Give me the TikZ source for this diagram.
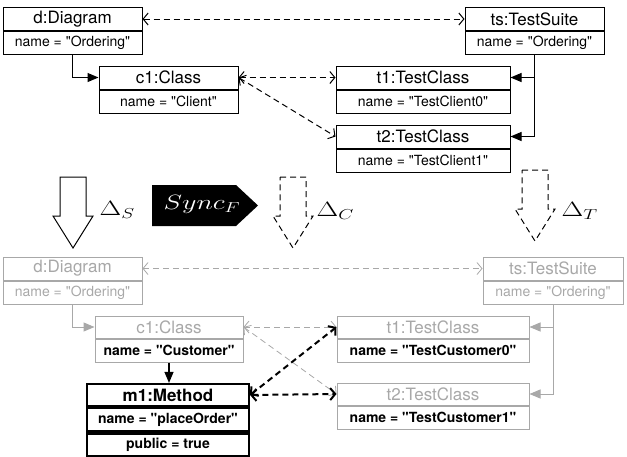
\documentclass[tikz,border=0pt]{standalone}
\usepackage{fontspec}
\setmainfont{TeX Gyre Heros}[Ligatures=TeXOff]
\usetikzlibrary{arrows.meta}
\definecolor{lgray}{gray}{0.66}

\begin{document}
\begin{tikzpicture}[x=1pt,y=-1pt, line width=1pt,
	box/.style={draw, minimum height=23pt, inner sep=0pt},
	ttl/.style={box, font=\fontsize{17}{20}\selectfont},
	att/.style={box, font=\fontsize{14}{16}\selectfont},
	ghost/.style={draw=lgray, text=lgray},
	heavy/.style={line width=2.2pt, font=\fontsize{14}{16}\selectfont\bfseries},
	delta/.style={anchor=base west, inner sep=0pt, font=\huge, xscale=1.35, transform shape},
	vague/.style={dash pattern=on 6pt off 4pt},
	link/.style={vague, {Straight Barb[length=5pt,width=12pt]}-{Straight Barb[length=5pt,width=12pt]}},
	own/.style={-{Triangle[length=11pt,width=9pt]}}]
	\useasboundingbox (0,0) rectangle (627,456);

	% source and target model before the change
	\foreach \n/\x/\y/\w/\t/\a in {d/72.5/19/139/d:Diagram/name = "Ordering",
								ts/534.5/19/139/ts:TestSuite/name = "Ordering",
								c1/168.5/77.5/139/c1:Class/name = "Client",
								t1/423/77.5/174/t1:TestClass/name = "TestClient0",
								t2/423/136.5/174/t2:TestClass/name = "TestClient1"}
	{
		\node[ttl, minimum width=\w pt] (\n) at (\x,\y) {\t};
		\node[att, minimum width=\w pt, anchor=north] (\n-at) at (\n.south) {\a};
	}
	\draw[own] (d-at.south) |- (c1);
	\draw[own] (ts-at.south) |- (t1);
	\draw[own] (ts-at.south) |- (t2);
	\draw[link] (d) -- (ts);
	\draw[link] (c1) -- (t1);
	\draw[link] (c1.east) -- (t2.west);

	% deltas
	\foreach \xy/\st in {(60,177)/solid,(280,177)/vague,(522,170)/vague}
		\draw[\st, shift={\xy}] (0,0) -- (26,0) -- (26,39) -- (33,39) -- (13,71) -- (-7,39) -- (0,39) -- cycle;
	\node[delta] (ds) at (99,215) {$\Delta_S$};
	\node[delta] (dc) at (316,216) {$\Delta_C$};
	\node[delta] (dt) at (561,216) {$\Delta_T$};
	\fill (152,185) -- (236,185) -- (258,205.5) -- (236,226) -- (152,226) -- cycle;
	\node[delta, text=white] (sync) at (163,209) {$Sync_F$};

	% synchronised models
	\node[ttl, ghost, minimum width=139pt] (bd) at (72.5,268.5) {d:Diagram};
	\node[att, ghost, minimum width=139pt, anchor=north] (bd-at) at (bd.south) {name = "Ordering"};
	\node[ttl, ghost, minimum width=140pt] (bts) at (553,268.5) {ts:TestSuite};
	\node[att, ghost, minimum width=140pt, anchor=north] (bts-at) at (bts.south) {name = "Ordering"};
	\node[ttl, ghost, minimum width=148pt, minimum height=22pt] (bc1) at (169,327) {c1:Class};
	\node[att, draw=lgray, minimum width=148pt, anchor=north, font=\fontsize{14}{16}\selectfont\bfseries] (bc1-at) at (bc1.south) {name = "Customer"};
	\node[ttl, ghost, minimum width=192pt, minimum height=22pt] (bt1) at (433,327) {t1:TestClass};
	\node[att, draw=lgray, minimum width=192pt, anchor=north, font=\fontsize{14}{16}\selectfont\bfseries] (bt1-at) at (bt1.south) {name = "TestCustomer0"};
	\node[ttl, ghost, minimum width=192pt, minimum height=22pt] (bt2) at (433,394) {t2:TestClass};
	\node[att, draw=lgray, minimum width=192pt, anchor=north, font=\fontsize{14}{16}\selectfont\bfseries] (bt2-at) at (bt2.south) {name = "TestCustomer1"};
	\node[box, heavy, minimum width=162pt, minimum height=22pt, font=\fontsize{17}{20}\selectfont\bfseries] (m1) at (168,395) {m1:Method};
	\node[box, heavy, minimum width=162pt, anchor=north] (m1-at) at (m1.south) {name = "placeOrder"};
	\node[box, heavy, minimum width=162pt, anchor=north] (m1-pub) at (m1-at.south) {public = true};

	\draw[own, lgray] (bd-at.south) |- (bc1);
	\draw[own, lgray] (bts-at.south) |- (bt1);
	\draw[own, lgray] (bts-at.south) |- (bt2);
	\draw[link, lgray, line width=0.8pt] (bd) -- (bts);
	\draw[link, lgray, line width=0.8pt] (bc1) -- (bt1);
	\draw[link, lgray, line width=0.8pt] (bc1.east) -- (bt2.west);
	\draw[own, line width=1.2pt] (bc1-at.south) -- (bc1-at.south |- m1.north);
	\draw[link, line width=2pt] (m1.east) -- (bt1.west);
	\draw[link, line width=2pt] (m1.east) -- (bt2.west);
\end{tikzpicture}
\end{document}
